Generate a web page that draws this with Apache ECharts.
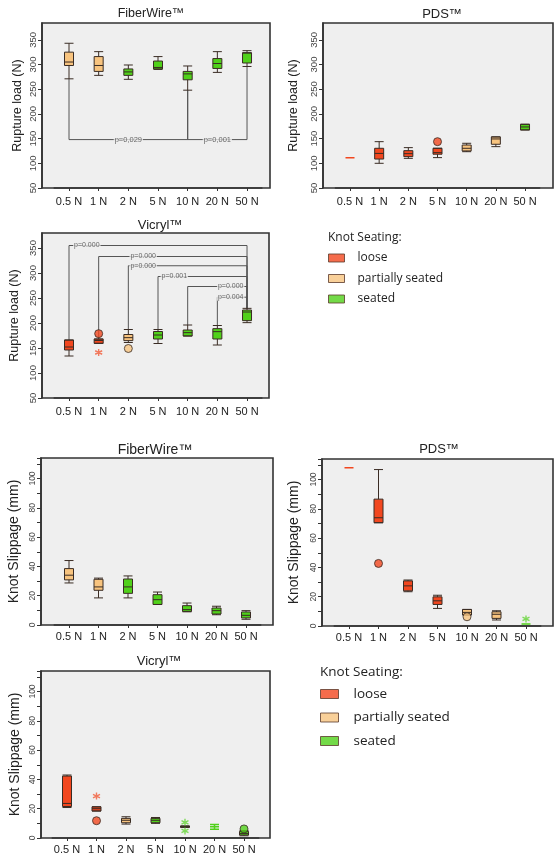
<!DOCTYPE html>
<html><head><meta charset="utf-8">
<script src="https://cdn.jsdelivr.net/npm/echarts@6/dist/echarts.min.js"></script>
<style>html,body{margin:0;padding:0;background:#fff}#c{width:554px;height:858px}</style>
</head><body><div id="c"></div><script>
// ---------- DATA ----------
const categories = ['0.5 N','1 N','2 N','5 N','10 N','20 N','50 N'];
const seatingNames = ['loose','partially seated','seated'];
// boxes: [min, q1, median, q3, max]
const fiberRupture = [[271,298,305,325,343],[278,286,298,316,326],[270,278,285,291,299],[290,291,294,307,316],[248,269,281,286,297],[284,292,302,312,326],[296,303,323,324,328]];
const fiberRuptureSeating = ['partially seated','partially seated','seated','seated','seated','seated','seated'];
const fiberRuptureOutliers = [];
// [fromIndex, toIndex, level, text, textPosition]
const fiberRuptureBrackets = [[0,4,148,'p=0,029',2],[4,6,148,'p=0,001',5]];

const pdsRupture = [[111,111,111,111,111],[100,108.6,120,130.4,143.8],[110,113.5,119.5,125.6,131.7],[111.5,118.4,121.6,130.4,130.4],[123.5,125,130.4,137,140.5],[133.7,138.5,149.3,153.3,153.6],[167.5,167.5,173.6,179,179]];
const pdsRuptureSeating = ['loose','loose','loose','loose','partially seated','partially seated','seated'];
const pdsRuptureOutliers = [[3,143.8,'circle']];
const pdsRuptureBrackets = [];

const vicrylRupture = [[134,146,152,166,166],[159.3,159.3,165,168,168],[161,164.7,170.7,177,187],[159,168,176,183,187],[174,174,180.7,186,196],[156,168,182.7,188.7,195],[200.7,204.7,222,226,229.3]];
const vicrylRuptureSeating = ['loose','loose','partially seated','seated','seated','seated','seated'];
const vicrylRuptureOutliers = [[1,178.7,'circle'],[1,141,'star'],[2,149,'circle']];
const vicrylRuptureBrackets = [[0,6,355,'p=0.000',0.6],[1,6,333,'p=0.000',2.5],[2,6,314.5,'p=0.000',2.5],[3,6,293,'p=0.001',3.55],[4,6,273,'p=0.000',5.45],[5,6,251.6,'p=0.004',5.45]];

const fiberSlippage = [[28.7,30.8,34,38.5,44],[18.5,23.7,26,31.2,32],[18.5,21.6,26,31.4,33.5],[14,14,17.3,20.7,22.5],[9,9.3,10.5,13.2,15],[7,7.5,9.8,11.6,12.8],[3.9,4.8,6.6,8.9,9.8]];
const fiberSlippageSeating = ['partially seated','partially seated','seated','seated','seated','seated','seated'];
const fiberSlippageOutliers = [];

const pdsSlippage = [[108,108,108,108,108],[70.5,70.5,73.9,86.6,106.8],[23.4,24,27.4,30.8,31.4],[12,14.7,17.2,19.9,21],[7.5,7.5,9.3,11.3,11.3],[4.1,5.2,8,9.7,10.4],[1.4,1.4,1.4,1.4,1.4]];
const pdsSlippageSeating = ['loose','loose','loose','loose','partially seated','partially seated','seated'];
const pdsSlippageOutliers = [[1,42.7,'circle'],[4,6.3,'circle'],[6,4.8,'star']];

const vicrylSlippage = [[20.8,21.5,23.6,42.3,43],[18.4,18.4,20,21.3,21.3],[9.5,10.4,12.1,13.4,14.5],[10,10.4,12.1,13.4,14],[7.3,7.3,7.7,8.2,8.2],[5.9,7.7,7.7,7.7,9.3],[1.5,2,3,4.5,5]];
const vicrylSlippageSeating = ['loose','loose','partially seated','seated','seated','seated','seated'];
const vicrylSlippageOutliers = [[1,28.6,'star'],[1,11.8,'circle'],[4,10.7,'star'],[4,4.8,'star'],[6,6.2,'circle']];

// ---------- STYLE / LAYOUT ----------
const COLORS = {'loose':'#f2471f','partially seated':'#f8c47f','seated':'#50d11a'};
const FONT = 'Liberation Sans, Arial, sans-serif';
const STAR = 'path://M5,0L5,10M0.67,2.5L9.33,7.5M0.67,7.5L9.33,2.5';

const panels = [
  {title:'FiberWire™', tx:151, ty:14, tfs:12.5, box:fiberRupture, seat:fiberRuptureSeating, out:fiberRuptureOutliers, br:fiberRuptureBrackets,
   L:42,T:23,R:270,B:188,c0:69,bw:29.67, ymin:50,ymax:384,yint:50, yname:'Rupture load (N)', nfs:12.5, ngap:18, minor:false},
  {title:'PDS™', tx:442, ty:14, tfs:13, box:pdsRupture, seat:pdsRuptureSeating, out:pdsRuptureOutliers, br:pdsRuptureBrackets,
   L:323,T:23,R:553,B:188,c0:350,bw:29.17, ymin:50,ymax:384,yint:50, yname:'Rupture load (N)', nfs:12.5, ngap:23, minor:false},
  {title:'Vicryl™', tx:160, ty:225, tfs:13, box:vicrylRupture, seat:vicrylRuptureSeating, out:vicrylRuptureOutliers, br:vicrylRuptureBrackets,
   L:42,T:233,R:269,B:398,c0:69,bw:29.67, ymin:50,ymax:380,yint:50, yname:'Rupture load (N)', nfs:12.5, ngap:21, minor:false},
  {title:'FiberWire™', tx:155, ty:450, tfs:14, box:fiberSlippage, seat:fiberSlippageSeating, out:fiberSlippageOutliers, br:[],
   L:41,T:458,R:273,B:625,c0:69,bw:29.5, ymin:0,ymax:114,yint:20, yname:'Knot Slippage (mm)', nfs:14, ngap:20, minor:true},
  {title:'PDS™', tx:439, ty:449, tfs:13, box:pdsSlippage, seat:pdsSlippageSeating, out:pdsSlippageOutliers, br:[],
   L:322,T:459,R:553,B:626,c0:349,bw:29.5, ymin:0,ymax:114,yint:20, yname:'Knot Slippage (mm)', nfs:14, ngap:21, minor:true},
  {title:'Vicryl™', tx:159, ty:661, tfs:13, box:vicrylSlippage, seat:vicrylSlippageSeating, out:vicrylSlippageOutliers, br:[],
   L:41,T:671,R:270,B:838,c0:67,bw:29.5, ymin:0,ymax:114,yint:20, yname:'Knot Slippage (mm)', nfs:14, ngap:19, minor:true}
];

const grid=[], xAxis=[], yAxis=[], series=[], graphic=[];
panels.forEach((p,i)=>{
  const gl = p.c0 - p.bw/2;
  graphic.push({type:'rect', z:-10, shape:{x:p.L,y:p.T,width:p.R-p.L,height:p.B-p.T}, style:{fill:'#efefef', stroke:'#333', lineWidth:1.6}});
  graphic.push({type:'text', z:10, x:p.tx, y:p.ty, style:{text:p.title, align:'center', verticalAlign:'middle', fontSize:p.tfs, fontFamily:FONT, fill:'#222'}});
  grid.push({left:gl, top:p.T, width:p.bw*7, height:p.B-p.T, containLabel:false});
  const rupt = !p.minor;
  xAxis.push({type:'category', gridIndex:i, data:categories, boundaryGap:true,
    axisLine:{show:true, onZero:false, lineStyle:{color:'#333', width:1.5}},
    axisTick:{show:true, alignWithLabel:true, length:3, lineStyle:{color:'#333'}},
    axisLabel:{fontSize:11, fontFamily:FONT, color:'#222', margin: rupt?8:6, interval:0},
    splitLine:{show:false}});
  xAxis.push({type:'value', gridIndex:i, min:-0.5, max:6.5, show:false});
  yAxis.push({type:'value', gridIndex:i, min:p.ymin, max:p.ymax, interval:p.yint, offset: gl - p.L,
    axisLine:{show:true, onZero:false, lineStyle:{color:'#333', width:1.6}},
    axisTick:{show:true, length:4, lineStyle:{color:'#333'}},
    minorTick:{show:p.minor, splitNumber:2, length:4, lineStyle:{color:'#333'}},
    axisLabel:{rotate:90, fontSize: rupt?9.5:8.5, fontFamily:FONT, color:'#444', margin:4, showMaxLabel:false},
    splitLine:{show:false},
    name:p.yname, nameLocation:'middle', nameGap:p.ngap,
    nameTextStyle:{fontSize:p.nfs, fontFamily:FONT, color:'#222'}});
  // boxes
  series.push({type:'boxplot', xAxisIndex:2*i, yAxisIndex:i, boxWidth:[9,9], silent:true,
    itemStyle:{borderWidth:1},
    data:p.box.map((v,k)=>{
      const c = COLORS[p.seat[k]];
      const degenerate = v[1]===v[3];
      return {value:v, itemStyle:{color:c, borderColor: degenerate? c : '#3a2c24', borderWidth: degenerate?1.5:1}};
    })});
  // outliers
  if (p.out.length) series.push({type:'scatter', xAxisIndex:2*i, yAxisIndex:i, silent:true, z:5,
    data:p.out.map(o=>{
      const c = COLORS[p.seat[o[0]]];
      return o[2]==='star'
        ? {value:[o[0],o[1]], symbol:STAR, symbolSize:7, itemStyle:{color:'none', borderColor:c, borderWidth:1.4, opacity:0.7}}
        : {value:[o[0],o[1]], symbol:'circle', symbolSize:8, itemStyle:{color:c, borderColor:'#3a2c24', borderWidth:1}};
    })});
  // brackets
  if (p.br.length) {
    series.push({type:'lines', coordinateSystem:'cartesian2d', xAxisIndex:2*i+1, yAxisIndex:i, polyline:true, silent:true, z:1,
      lineStyle:{color:'#555', width:1, opacity:1},
      data:p.br.map(b=>{
        const yEnd = k => (b[2] > p.box[k][4]) ? p.box[k][4] : p.box[k][0];
        return {coords:[[b[0],yEnd(b[0])],[b[0],b[2]],[b[1],b[2]],[b[1],yEnd(b[1])]]};
      })});
    series.push({type:'scatter', xAxisIndex:2*i+1, yAxisIndex:i, silent:true, z:3, symbolSize:1,
      itemStyle:{color:'rgba(0,0,0,0)'},
      label:{show:true, position:'inside', formatter:d=>d.name, fontSize: i===0?7.5:7, fontFamily:FONT, color:'#444', backgroundColor:'#efefef', padding:[0,1]},
      data:p.br.map(b=>({name:b[3], value:[b[4], b[2]]}))});
  }
});

// legend proxy series (empty) so legends come from series names
seatingNames.forEach(n=>series.push({type:'scatter', name:n, xAxisIndex:0, yAxisIndex:0, data:[], itemStyle:{color:COLORS[n], borderColor:'#3a2c24', borderWidth:1}}));
const legendData = seatingNames.map(n=>({name:n, itemStyle:{color:COLORS[n], borderColor:'#5a3a2a', borderWidth:1}}));

graphic.push({type:'text', x:328, y:238, style:{text:'Knot Seating:', verticalAlign:'middle', fontSize:12, fontFamily:'Open Sans, sans-serif', fill:'#222'}});
graphic.push({type:'text', x:320, y:672, style:{text:'Knot Seating:', verticalAlign:'middle', fontSize:13.5, fontFamily:'Open Sans, sans-serif', fill:'#222'}});

const legend = [
  {data:legendData, orient:'vertical', left:328, top:251, padding:0, itemWidth:16, itemHeight:8, itemGap:6.5, icon:'rect', selectedMode:false,
   textStyle:{fontSize:12, lineHeight:14, fontFamily:'Open Sans, sans-serif', color:'#222', padding:[0,0,0,8]}},
  {data:legendData, orient:'vertical', left:320, top:686, padding:0, itemWidth:18, itemHeight:9, itemGap:7.5, icon:'rect', selectedMode:false,
   textStyle:{fontSize:13.5, lineHeight:16, fontFamily:'Open Sans, sans-serif', color:'#222', padding:[0,0,0,10]}}
];

const chart = echarts.init(document.getElementById('c'), null, {renderer:'canvas'});
chart.setOption({animation:false, backgroundColor:'#fff', grid, xAxis, yAxis, series, graphic, legend});
</script></body></html>
